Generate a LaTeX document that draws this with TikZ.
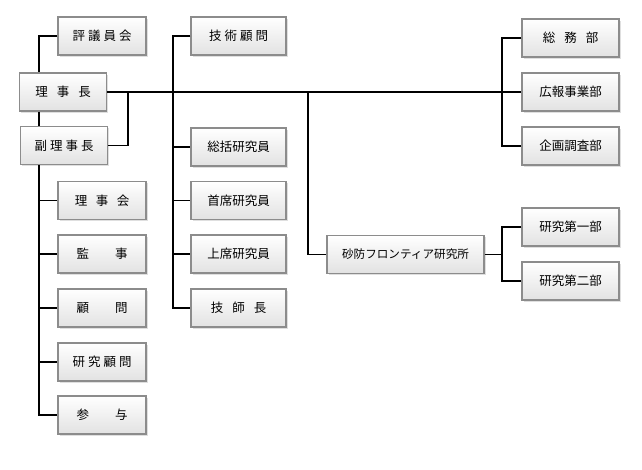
\documentclass[tikz,border=0pt]{standalone}
\usepackage{fontspec}
\setmainfont{Noto Sans CJK JP}
\usetikzlibrary{shadows}
\definecolor{boxgray}{HTML}{8C8C8C}
\definecolor{boxbottom}{HTML}{E2E2E2}
\begin{document}
\begin{tikzpicture}[x=1pt,y=-1pt,
  box/.style={draw=boxgray, line width=1.1pt, top color=white, bottom color=boxbottom,
    minimum height=38pt, inner sep=0pt, font=\fontsize{12.5}{14}\selectfont,
    drop shadow={opacity=0.25, shadow xshift=1.6pt, shadow yshift=-1.6pt}},
  lbox/.style={box, minimum width=88pt},
  mbox/.style={box, minimum width=95pt},
  rbox/.style={box, minimum width=97pt},
  conn/.style={line width=1.2pt, black}]
\useasboundingbox (0,0) rectangle (642,469);
% left
\node[lbox] (hyo) at (102,36) {評\hspace{3pt}議\hspace{3pt}員\hspace{3pt}会};
\node[box, minimum width=87pt] (rij) at (63,92) {理\hspace{9pt}事\hspace{9pt}長};
\node[box, minimum width=87pt] (fuk) at (64,145.5) {副\hspace{3pt}理\hspace{3pt}事\hspace{3pt}長};
\node[lbox] (rkai) at (102,200.5) {理\hspace{8.5pt}事\hspace{8.5pt}会};
\node[lbox] (kanj) at (102,254) {監\hspace{26pt}事};
\node[lbox] (komo) at (102,308) {顧\hspace{26pt}問};
\node[lbox] (kkom) at (102,362) {研\hspace{3pt}究\hspace{3pt}顧\hspace{3pt}問};
\node[lbox] (sany) at (102,415) {参\hspace{26pt}与};
% middle
\node[mbox] (gkom) at (238.5,36) {技\hspace{3pt}術\hspace{3pt}顧\hspace{3pt}問};
\node[mbox] (souk) at (238.5,147) {総括研究員};
\node[mbox] (shus) at (238.5,200.5) {首席研究員};
\node[mbox] (jous) at (238.5,254) {上席研究員};
\node[mbox] (gisi) at (238.5,308) {技\hspace{9pt}師\hspace{9pt}長};
% right
\node[rbox] (soum) at (570.5,38) {総\hspace{9pt}務\hspace{9pt}部};
\node[rbox] (kouh) at (570.5,92) {広報事業部};
\node[rbox] (kika) at (570.5,146) {企画調査部};
\node[box, minimum width=157pt, font=\fontsize{11.6}{14}\selectfont] (sabo) at (405.5,254.5) {砂防フロンティア研究所};
\node[rbox] (ken1) at (570.5,227) {研究第一部};
\node[rbox] (ken2) at (570.5,281) {研究第二部};
% trunk coordinates
\coordinate (L) at (39,0);
\coordinate (F) at (128,0);
\coordinate (M) at (173,0);
\coordinate (S) at (308,0);
\coordinate (R) at (502,0);
% left connectors
\draw[conn] (hyo.west) -- (hyo.west -| L) -- (rij.north -| L);
\draw[conn] (rij.south -| L) -- (fuk.north -| L);
\draw[conn] (fuk.south -| L) -- (sany.west -| L) -- (sany.west);
\foreach \n in {rkai,kanj,komo,kkom} \draw[conn] (\n.west -| L) -- (\n.west);
\draw[conn] (fuk.east) -- (fuk.east -| F) -- (rij.east -| F);
% main line
\draw[conn] (rij.east) -- (kouh.west);
% middle trunk
\draw[conn] (gkom.west) -- (gkom.west -| M) -- (gisi.west -| M) -- (gisi.west);
\foreach \n in {souk,shus,jous} \draw[conn] (\n.west -| M) -- (\n.west);
% right trunk
\draw[conn] (soum.west) -- (soum.west -| R) -- (kika.west -| R) -- (kika.west);
% sabo
\draw[conn] (rij.east -| S) -- (sabo.west -| S) -- (sabo.west);
\draw[conn] (sabo.east) -- (sabo.east -| R);
\draw[conn] (ken1.west) -- (ken1.west -| R) -- (ken2.west -| R) -- (ken2.west);
\end{tikzpicture}
\end{document}
